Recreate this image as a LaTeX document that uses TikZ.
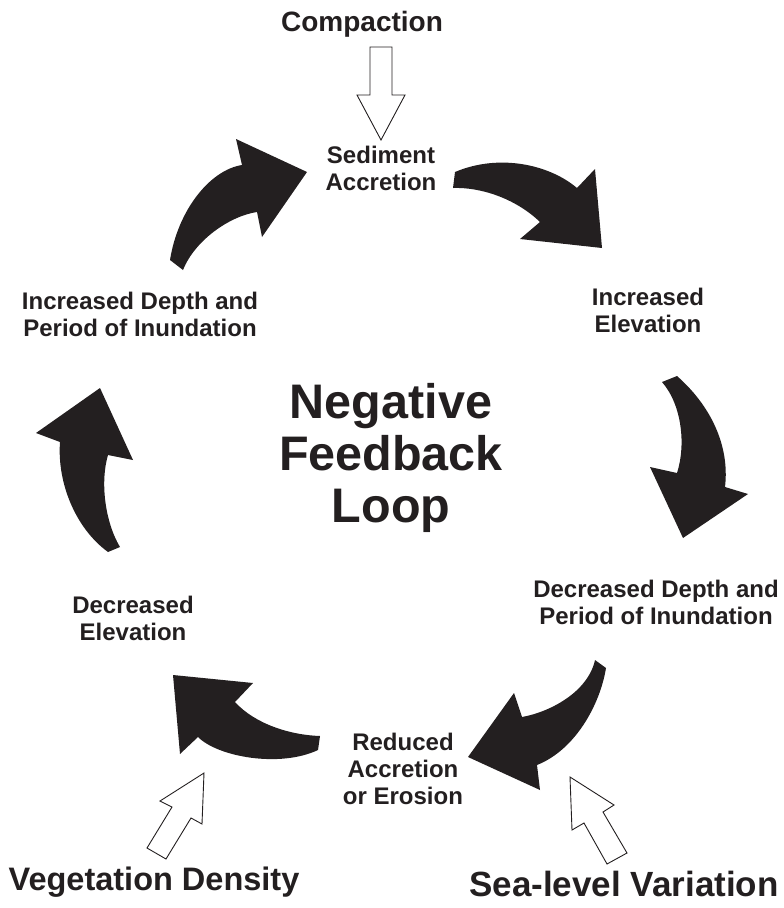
\documentclass[tikz,border=0pt]{standalone}
\usepackage{fontspec}
\setmainfont{Liberation Sans}
\usepackage{tikz}
\usetikzlibrary{positioning}
\definecolor{ink}{RGB}{35,31,32}

\begin{document}
\begin{tikzpicture}[
  x=1pt, y=-1pt,
  font=\bfseries, text=ink,
  stage/.style={align=center,font=\bfseries\fontsize{24}{27}\selectfont},
  core/.style={align=center,font=\bfseries\fontsize{48.5}{52}\selectfont},
  driver/.style={font=\bfseries\fontsize{32.5}{36}\selectfont},
  fat/.style={fill=ink},
  hollow/.style={draw=ink,fill=white,line width=0.9pt,line join=miter},
]
\useasboundingbox (0,0) rectangle (784,908);

% stages of the loop
\node[stage] (sed) at (381,168) {Sediment\\Accretion};
\node[stage] (incel) at (648,310) {Increased\\Elevation};
\node[stage] (decdep) at (656,602) {Decreased Depth and\\Period of Inundation};
\node[stage] (red) at (403,769) {Reduced\\Accretion\\or Erosion};
\node[stage] (decel) at (133,618) {Decreased\\Elevation};
\node[stage] (incdep) at (140,314) {Increased Depth and\\Period of Inundation};

\node[core] (loop) at (391,458) {Negative\\Feedback\\Loop};

% outside drivers
\node[driver,font=\bfseries\fontsize{28}{31}\selectfont] (comp) at (362,24) {Compaction};
\node[driver] (veg) at (154,882) {Vegetation Density};
\node[driver,font=\bfseries\fontsize{35}{38}\selectfont] (sea) at (624,884) {Sea-level Variation};

% curved arrows round the loop
\fill[fat] (170,260) .. controls (178,210) and (210,170) .. (242,165) -- (236,139) -- (307,172)
  -- (262,237) -- (257,212) .. controls (230,216) and (195,240) .. (183,270) -- cycle;
\fill[fat] (455,172) .. controls (500,153) and (550,165) .. (577,188) -- (595,169) -- (602,248)
  -- (520,239) -- (540,222) .. controls (515,198) and (480,187) .. (453,188) -- cycle;
\fill[fat] (677,376) .. controls (710,405) and (730,445) .. (725,487) -- (748,494) -- (683,538)
  -- (650,467) -- (677,473) .. controls (686,445) and (682,405) .. (662,382) -- cycle;
\fill[fat] (606,668) .. controls (600,705) and (575,750) .. (537,765) -- (540,790) -- (468,757)
  -- (514,693) -- (522,717) .. controls (550,712) and (588,692) .. (595,660) -- cycle;
\fill[fat] (320,736) .. controls (290,735) and (255,724) .. (235,702) -- (253,683) -- (173,675)
  -- (180,754) -- (198,737) .. controls (218,757) and (280,768) .. (318,750) -- cycle;
\fill[fat] (108,552) .. controls (75,528) and (57,482) .. (60,442) -- (36,433) -- (100,388)
  -- (133,460) -- (108,455) .. controls (100,482) and (105,522) .. (120,547) -- cycle;

% hollow arrows of the drivers
\draw[hollow] (370,47) -- (392,47) -- (392,95) -- (405,95) -- (381,140) -- (357,95) -- (370,95) -- cycle;
\draw[hollow] (204,773) -- (202,824) -- (191,818) -- (166,859) -- (147,848) -- (172,807) -- (160,801) -- cycle;
\draw[hollow] (570,777) -- (614,805) -- (603,812) -- (627,853) -- (607,864) -- (584,823) -- (572,830) -- cycle;

\end{tikzpicture}
\end{document}
